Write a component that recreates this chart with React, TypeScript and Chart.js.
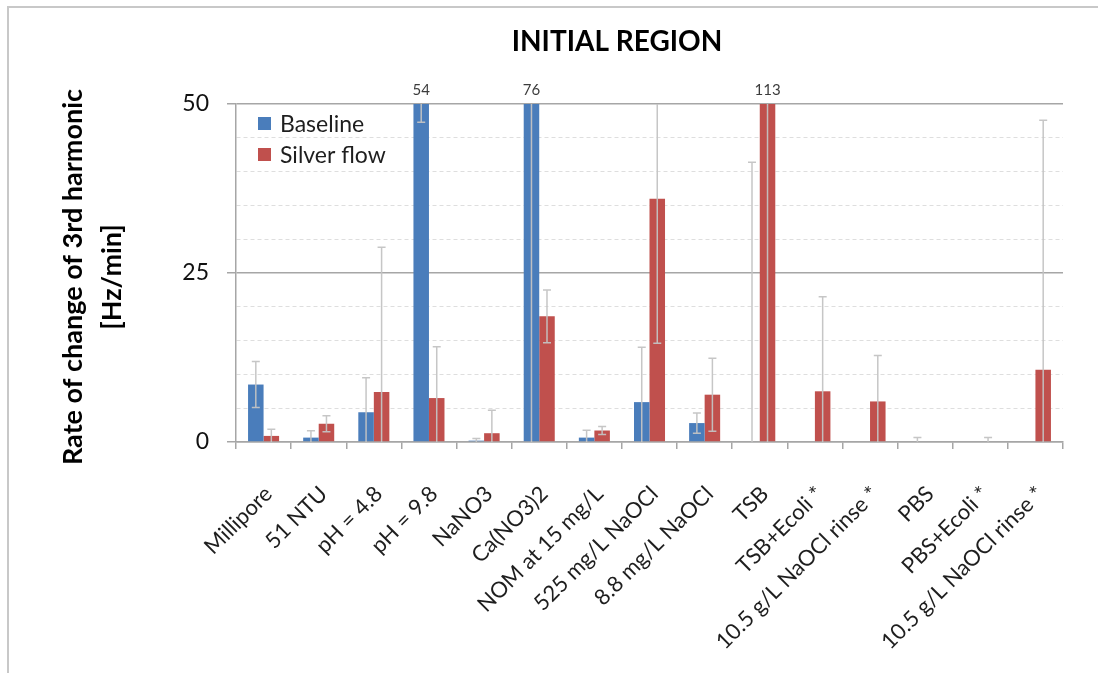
import React, { useEffect, useRef } from 'react';
import { Chart, registerables } from 'chart.js';

Chart.register(...registerables);

// Test conditions along the x axis
const categories = [
  'Millipore',
  '51 NTU',
  'pH = 4.8',
  'pH = 9.8',
  'NaNO3',
  'Ca(NO3)2',
  'NOM at 15 mg/L',
  '525 mg/L NaOCl',
  '8.8 mg/L NaOCl',
  'TSB',
  'TSB+Ecoli *',
  '10.5 g/L NaOCl rinse *',
  'PBS',
  'PBS+Ecoli *',
  '10.5 g/L NaOCl rinse *',
];

// Rate of change of the 3rd harmonic [Hz/min]
const baseline = [8.5, 0.65, 4.4, 54, 0.2, 76, 0.65, 5.9, 2.8, 0, null, null, 0, null, null];
const baselineErr = [3.4, 1.0, 5.1, 6.7, 0.3, 80, 1.1, 8.1, 1.5, 41.4, null, null, 0.65, null, null];
const silverFlow = [0.9, 2.7, 7.4, 6.5, 1.3, 18.6, 1.7, 36, 7.0, 113, 7.5, 6.0, null, 0, 10.7];
const silverFlowErr = [1.0, 1.2, 21.4, 7.6, 3.4, 3.9, 0.6, 21.4, 5.4, 120, 14, 6.8, null, 0.65, 36.9];

const seriesNames = ['Baseline', 'Silver flow'];
const seriesColors = ['#4a7dbb', '#c0504d'];
const yTickLabels = [0, 25, 50];
const Y_MIN = 0;
const Y_MAX = 50;
const Y_STEP = 5;

const FONT = 'Lato, "Open Sans", sans-serif';
const errorSets = [baselineErr, silverFlowErr];

const isMajor = (c: any) => c && c.tick && yTickLabels.includes(c.tick.value);

// Whiskers drawn on top of the bars, clipped to the plot area
const errorBarPlugin = {
  id: 'errorBars',
  afterDatasetsDraw(chart: any) {
    const { ctx, chartArea, scales } = chart;
    const y = scales.y;
    ctx.save();
    ctx.beginPath();
    ctx.rect(chartArea.left, chartArea.top, chartArea.right - chartArea.left, chartArea.bottom - chartArea.top);
    ctx.clip();
    ctx.strokeStyle = 'rgba(195,195,195,0.95)';
    ctx.lineWidth = 1.5;
    chart.data.datasets.forEach((ds: any, di: number) => {
      const meta = chart.getDatasetMeta(di);
      const errs = errorSets[di];
      ds.data.forEach((v: number | null, i: number) => {
        const e = errs[i];
        if (v == null || e == null) return;
        const x = meta.data[i].x;
        const top = y.getPixelForValue(v + e);
        const bot = y.getPixelForValue(v - e);
        ctx.beginPath();
        ctx.moveTo(x, top);
        ctx.lineTo(x, bot);
        ctx.moveTo(x - 4, top);
        ctx.lineTo(x + 4, top);
        ctx.moveTo(x - 4, bot);
        ctx.lineTo(x + 4, bot);
        ctx.stroke();
      });
    });
    ctx.restore();
  },
};

// Title, axis title, legend and the values of bars that run off the top
const annotationPlugin = {
  id: 'annotations',
  afterDraw(chart: any) {
    const { ctx, chartArea } = chart;
    ctx.save();

    ctx.fillStyle = '#000';
    ctx.textAlign = 'center';
    ctx.textBaseline = 'middle';
    ctx.font = `bold 28px ${FONT}`;
    ctx.fillText('INITIAL REGION', 617, 42);

    ctx.save();
    ctx.translate(73, 277);
    ctx.rotate(-Math.PI / 2);
    ctx.font = `bold 27px ${FONT}`;
    ctx.fillText('Rate of change of 3rd harmonic', 0, 0);
    ctx.fillText('[Hz/min]', 0, 39);
    ctx.restore();

    ctx.textAlign = 'left';
    ctx.textBaseline = 'alphabetic';
    ctx.font = `23px ${FONT}`;
    seriesNames.forEach((name, k) => {
      const top = 117 + k * 31;
      ctx.fillStyle = seriesColors[k];
      ctx.fillRect(258, top, 13, 13);
      ctx.fillStyle = '#1e1e1e';
      ctx.fillText(name, 280, top + 15);
    });

    ctx.textAlign = 'center';
    ctx.textBaseline = 'middle';
    ctx.font = `15px ${FONT}`;
    ctx.fillStyle = '#3c3c3c';
    chart.data.datasets.forEach((ds: any, di: number) => {
      const meta = chart.getDatasetMeta(di);
      ds.data.forEach((v: number | null, i: number) => {
        if (v != null && v > Y_MAX) {
          ctx.fillText(String(v), meta.data[i].x, chartArea.top - 14);
        }
      });
    });

    ctx.restore();
  },
};

export default function App() {
  const canvasRef = useRef<HTMLCanvasElement | null>(null);

  useEffect(() => {
    if (!canvasRef.current) return;
    const chart = new Chart(canvasRef.current, {
      type: 'bar',
      data: {
        labels: categories,
        datasets: [
          {
            label: seriesNames[0],
            data: baseline,
            backgroundColor: seriesColors[0],
            barPercentage: 1,
            categoryPercentage: 0.563,
          },
          {
            label: seriesNames[1],
            data: silverFlow,
            backgroundColor: seriesColors[1],
            barPercentage: 1,
            categoryPercentage: 0.563,
          },
        ],
      },
      options: {
        responsive: false,
        animation: false,
        devicePixelRatio: 1,
        layout: { padding: { top: 104, right: 35, bottom: 0, left: 0 } },
        plugins: {
          legend: { display: false },
          tooltip: { enabled: false },
          title: { display: false },
        },
        scales: {
          x: {
            afterFit: (s: any) => {
              s.height = 231;
            },
            ticks: {
              autoSkip: false,
              maxRotation: 45,
              minRotation: 45,
              padding: 32,
              labelOffset: 5,
              color: '#1e1e1e',
              font: { family: FONT, size: 22 },
            },
            grid: {
              offset: true,
              drawOnChartArea: false,
              drawTicks: true,
              tickLength: 7,
              color: '#a6a6a6',
              lineWidth: 1.5,
            },
            border: { color: '#a6a6a6', width: 1.5 },
          },
          y: {
            min: Y_MIN,
            max: Y_MAX,
            afterFit: (s: any) => {
              s.width = 236;
            },
            ticks: {
              stepSize: Y_STEP,
              autoSkip: false,
              padding: 18,
              color: '#111',
              font: { family: FONT, size: 23 },
              callback: (v: any) => (yTickLabels.includes(Number(v)) ? String(v) : ''),
            },
            grid: {
              color: (c: any) => (isMajor(c) ? '#a6a6a6' : '#dedede'),
              lineWidth: (c: any) => (isMajor(c) ? 1.5 : 1),
              tickColor: (c: any) => (isMajor(c) ? '#a6a6a6' : 'rgba(0,0,0,0)'),
              tickLength: 9,
              drawTicks: true,
            },
            border: {
              color: '#a6a6a6',
              width: 1.5,
              dash: (c: any) => (c && c.tick && !yTickLabels.includes(c.tick.value) ? [4, 3] : []),
            },
          },
        },
      },
      plugins: [errorBarPlugin, annotationPlugin],
    });
    return () => chart.destroy();
  }, []);

  return (
    <div style={{ position: 'absolute', left: 0, top: 0, width: 1098, height: 673, background: '#fff' }}>
      <canvas ref={canvasRef} width={1098} height={673} style={{ display: 'block' }} />
      <div
        style={{
          position: 'absolute',
          left: 7,
          top: 6,
          right: 0,
          bottom: 0,
          borderLeft: '2px solid #c8c8c8',
          borderTop: '2px solid #c8c8c8',
          pointerEvents: 'none',
        }}
      />
    </div>
  );
}
